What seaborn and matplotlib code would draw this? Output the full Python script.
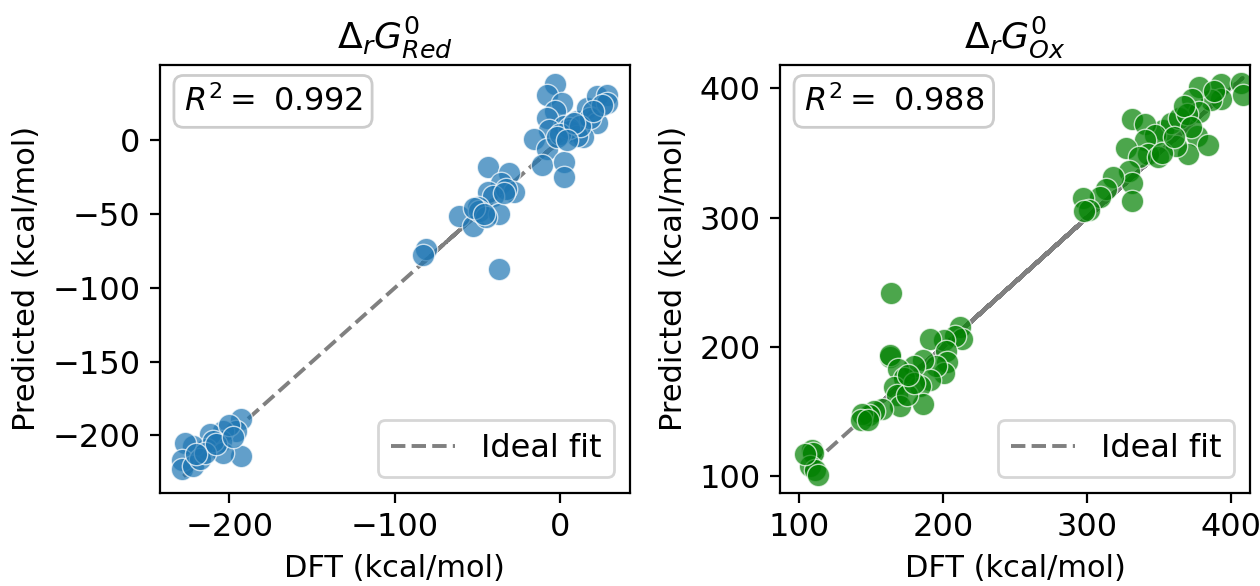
import numpy as np
import pandas as pd
import matplotlib
matplotlib.use("Agg")
import matplotlib.pyplot as plt
import seaborn as sns

# reduction free energies: DFT vs predicted (kcal/mol)
dft_red = [
    -193, -193, -196, -204, -205, -212, -214, -222, -227, -229,
    -229, -222, -218, -204, -200, -210, -215, -208, -220, -198,
    -44, -31, -36, -44, -28, -33, -41, -50, -61, -53,
    -49, -37, -45, -52, -81, -83, -37, -46, -34,
    -3, -8, 1, -3, -8, 2, -7, 10, 16, 22,
    28, 28, 22, 6, -16, -8, -11, 2, 2, 14,
    18, 10, 5, 0, 25, 12, 20, 8, -2, 4,
]
pred_red = [
    -189, -214, -197, -197, -204, -199, -209, -207, -205, -217,
    -223, -221, -216, -212, -193, -204, -212, -206, -213, -201,
    -18, -22, -29, -35, -35, -33, -38, -45, -51, -58,
    -48, -50, -52, -46, -74, -78, -87, -50, -36,
    38, 31, 25, 20, 15, 10, 7, 13, 22, 30,
    31, 25, 12, 6, 1, -6, -17, -15, -25, 2,
    15, 3, 8, 4, 24, 10, 20, 12, 2, 0,
]

# oxidation free energies: DFT vs predicted (kcal/mol)
dft_ox = [
    393, 164, 393, 212, 386, 213, 378, 208, 373, 201,
    378, 191, 376, 202, 370, 203, 362, 201, 353, 195,
    358, 186, 364, 191, 369, 184, 367, 186, 331, 180,
    340, 163, 347, 163, 340, 169, 327, 173, 342, 166,
    336, 168, 349, 170, 329, 175, 331, 158, 331, 152,
    318, 149, 313, 144, 309, 143, 297, 148, 301, 180,
    298, 176, 407, 408, 384, 352, 372, 360, 388,
    109, 110, 108, 111, 113, 104,
]
pred_ox = [
    403, 242, 392, 215, 391, 206, 401, 208, 392, 205,
    382, 206, 363, 197, 349, 188, 355, 180, 368, 185,
    373, 190, 377, 174, 380, 170, 386, 156, 376, 185,
    372, 192, 364, 194, 360, 183, 354, 176, 349, 169,
    347, 163, 347, 154, 336, 163, 327, 152, 313, 150,
    331, 147, 322, 148, 316, 143, 315, 143, 306, 172,
    305, 178, 404, 395, 356, 350, 370, 362, 398,
    120, 118, 108, 105, 101, 117,
]

panels = [
    (dft_red, pred_red, "#1f77b4", r"$\Delta_r G^0_{Red}$", "0.992",
     (-242, 42), (-239, 51), [-200, -100, 0], [-200, -150, -100, -50, 0]),
    (dft_ox, pred_ox, "green", r"$\Delta_r G^0_{Ox}$", "0.988",
     (87, 413), (87, 418), [100, 200, 300, 400], [100, 200, 300, 400]),
]

fig, axes = plt.subplots(1, 2, figsize=(6.3, 2.93), dpi=200)
fig.subplots_adjust(left=0.127, right=0.992, top=0.889, bottom=0.159, wspace=0.32)

for ax, (x, y, color, title, r2, xlim, ylim, xt, yt) in zip(axes, panels):
    df = pd.DataFrame({"dft": x, "pred": y})
    ax.plot(df.dft, df.dft, ls="--", color="gray", lw=1.4, label="Ideal fit", zorder=1)
    sns.scatterplot(data=df, x="dft", y="pred", ax=ax, color=color, alpha=0.7,
                    s=65, edgecolor="white", linewidth=0.5, zorder=2)
    ax.set_xlim(*xlim)
    ax.set_ylim(*ylim)
    ax.set_xticks(xt)
    ax.set_yticks(yt)
    ax.tick_params(labelsize=11.5)
    ax.set_title(title, fontsize=13)
    ax.set_xlabel("DFT (kcal/mol)", fontsize=11)
    ax.set_ylabel("Predicted (kcal/mol)", fontsize=11)
    ax.text(0.05, 0.915, r"$R^2 = $ " + r2, transform=ax.transAxes, fontsize=11.5,
            va="center", ha="left",
            bbox=dict(boxstyle="round", facecolor="white", edgecolor="0.8"))
    ax.legend(loc="lower right", fontsize=11.5, handlelength=2.0)

fig.savefig("out.png", dpi=200)
